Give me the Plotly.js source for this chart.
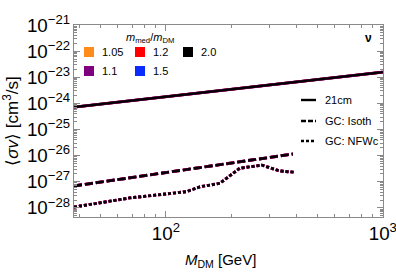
<!DOCTYPE html>
<html>
<head>
<meta charset="utf-8">
<script src="https://cdn.plot.ly/plotly-3.0.1.min.js"></script>
<style>html,body{margin:0;padding:0;background:#fff;}#chart{width:396px;height:273px;}</style>
</head>
<body>
<div id="chart"></div>
<script>
// ---- data ----
const ratioLabels = ['1.05', '1.1', '1.2', '1.5', '2.0'];
const ratioColors = ['#ff8c1a', '#7f007f', '#ff0000', '#0a2bff', '#000000'];

const mass21cm = [37.7, 100, 1000];
const sv21cm = [7.2e-25, 1.82e-24, 1.58e-23];

const massIsoth = [37.7, 100, 385];
const svIsoth = [6.9e-28, 2.25e-27, 1.15e-26];

const massNFWc = [37.7, 49.6, 68.2, 100, 125, 143.5, 177.5, 219, 277, 335, 361, 393];
const svNFWc = [1.07e-28, 1.55e-28, 2.4e-28, 3.4e-28, 4.2e-28, 6.4e-28, 8.7e-28, 3.3e-27, 4.3e-27, 2.6e-27, 2.4e-27, 2.3e-27];

const styleLabels = ['21cm', 'GC: Isoth', 'GC: NFWc'];
const styleDashes = ['solid', '8px,3px', '3px,2px'];

// ---- traces ----
const series = [[mass21cm, sv21cm], [massIsoth, svIsoth], [massNFWc, svNFWc]];
const traces = [];
// draw order: coloured ones beneath, black (2.0) on top
const order = [0, 3, 2, 1, 4];
series.forEach((s, si) => {
  order.forEach(ci => {
    const isTop = ci === 4;
    traces.push({
      x: s[0], y: s[1], type: 'scatter', mode: 'lines',
      name: styleLabels[si] + ' ' + ratioLabels[ci],
      showlegend: false, hoverinfo: 'skip',
      line: {color: ratioColors[ci], width: isTop ? 2.4 : 2.9, dash: styleDashes[si]}
    });
  });
});

// ---- legend drawn with shapes/annotations ----
const L = 74, R = 383, T = 25, B = 217;
const px = v => (v - L) / (R - L);
const py = v => (B - v) / (B - T);
const shapes = [];
const annotations = [];
const font = 'Liberation Sans, Arial, sans-serif';

const sqPos = [[84, 47], [84, 66], [135, 47], [135, 66], [183, 47]];
ratioLabels.forEach((lab, i) => {
  const [x0, y0] = sqPos[i];
  shapes.push({type: 'rect', xref: 'paper', yref: 'paper',
    x0: px(x0), x1: px(x0 + 10), y0: py(y0 + 10), y1: py(y0),
    fillcolor: ratioColors[i], line: {width: 0}});
  annotations.push({xref: 'paper', yref: 'paper', x: px(x0 + 16), y: py(y0 + 5),
    xanchor: 'left', yanchor: 'middle', showarrow: false, text: lab,
    font: {family: font, size: 11, color: '#000'}});
});
annotations.push({xref: 'paper', yref: 'paper', x: px(150), y: py(38),
  xanchor: 'center', yanchor: 'middle', showarrow: false,
  text: '<i>m</i><sub>med</sub>/<i>m</i><sub>DM</sub>',
  font: {family: font, size: 11, color: '#000'}});

const lineY = [100, 121, 141];
styleLabels.forEach((lab, i) => {
  shapes.push({type: 'line', xref: 'paper', yref: 'paper',
    x0: px(301), x1: px(316), y0: py(lineY[i]), y1: py(lineY[i]),
    line: {color: '#000', width: 2.4, dash: i === 0 ? 'solid' : (i === 1 ? '5px,2px' : '3px,2px')}});
  annotations.push({xref: 'paper', yref: 'paper', x: px(323), y: py(lineY[i]),
    xanchor: 'left', yanchor: 'middle', showarrow: false, text: lab,
    font: {family: font, size: 11, color: '#000'}});
});

annotations.push({xref: 'paper', yref: 'paper', x: px(368), y: py(38),
  xanchor: 'center', yanchor: 'middle', showarrow: false, text: '<b>ν</b>',
  font: {family: font, size: 12, color: '#000'}});

annotations.push({xref: 'paper', yref: 'paper', x: px(220), y: py(260),
  xanchor: 'center', yanchor: 'middle', showarrow: false,
  text: '<i>M</i><sub>DM</sub> [GeV]',
  font: {family: font, size: 15, color: '#000'}});

const axisCommon = {
  type: 'log', showgrid: false, zeroline: false,
  showline: true, linecolor: '#8a8a8a', linewidth: 1, mirror: 'allticks',
  ticks: 'inside', ticklen: 6, tickwidth: 1, tickcolor: '#8a8a8a',
  dtick: 1, exponentformat: 'power', ticklabeloverflow: 'allow',
  tickfont: {family: font, size: 15, color: '#000'},
  minor: {dtick: 'D1', ticks: 'inside', ticklen: 3, tickwidth: 1, tickcolor: '#8a8a8a', showgrid: false}
};

const layout = {
  width: 396, height: 273,
  margin: {l: L, r: 396 - R, t: T, b: 273 - B},
  paper_bgcolor: '#fff', plot_bgcolor: '#fff',
  showlegend: false,
  xaxis: Object.assign({}, axisCommon, {range: [Math.log10(37.7), 3.001]}),
  yaxis: Object.assign({}, axisCommon, {range: [-28.35, -20.999],
    title: {text: '⟨<i>σv</i>⟩ [cm<sup>3</sup>/s]', font: {family: font, size: 17, color: '#000'}, standoff: 6}}),
  shapes: shapes,
  annotations: annotations
};

Plotly.newPlot('chart', traces, layout, {staticPlot: true, displayModeBar: false});
</script>
</body>
</html>
